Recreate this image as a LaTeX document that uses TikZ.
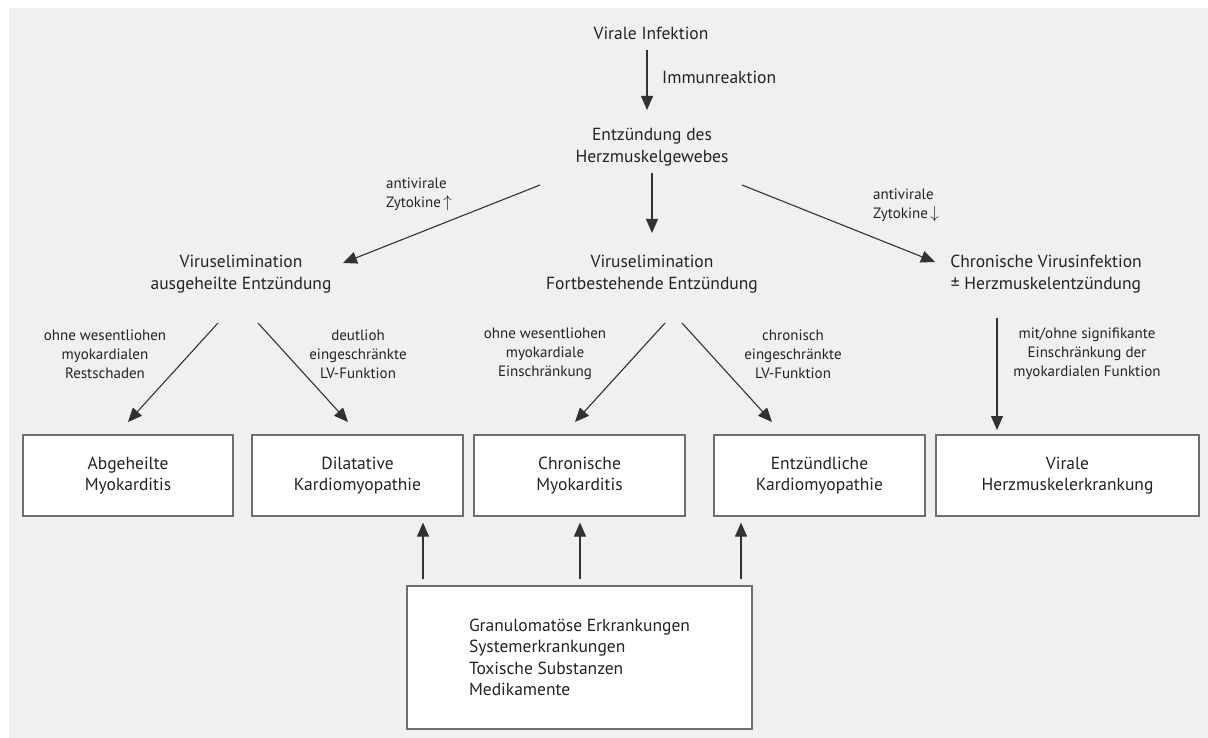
\documentclass[tikz,border=0pt]{standalone}
\usepackage{fontspec}
\setmainfont{PT Sans}
\usetikzlibrary{arrows.meta}
\definecolor{bg}{RGB}{240,240,240}
\definecolor{txt}{RGB}{35,35,35}
\definecolor{ln}{RGB}{50,50,50}
\definecolor{bd}{RGB}{110,110,110}
\begin{document}
\begin{tikzpicture}[x=1pt,y=-1pt,
  txtnode/.style={text=txt,font=\fontsize{17.5}{21.5}\selectfont,align=center,inner sep=0pt},
  lbl/.style={text=txt,font=\fontsize{15}{19}\selectfont,align=center,inner sep=0pt},
  box/.style={draw=bd,line width=1.2pt,fill=white,minimum height=81pt,text=txt,
    font=\fontsize{17.5}{21.5}\selectfont,align=center,inner sep=0pt},
  arr/.style={draw=ln,line width=1.1pt,-{Triangle[length=14pt,width=12pt]}}]
\useasboundingbox (0,0) rectangle (1208,738);
\fill[white] (0,0) rectangle (1208,738);
\fill[bg] (9,8) rectangle (1208,738);

% main text nodes
\node[txtnode] (vi) at (651,33) {Virale Infektion};
\node[txtnode,anchor=west] (imm) at (662,77) {Immunreaktion};
\node[txtnode] (ent) at (652,147) {Entzündung des\\Herzmuskelgewebes};
\node[txtnode] (elimL) at (241,274) {Viruselimination\\ausgeheilte Entzündung};
\node[txtnode] (elimM) at (652,274) {Viruselimination\\Fortbestehende Entzündung};
\node[txtnode] (chron) at (1046,274) {Chronische Virusinfektion\\± Herzmuskelentzündung};

% labels
\node[lbl,anchor=west,align=left] (avL) at (386,194) {antivirale\\Zytokine\,{\fontsize{17}{19}\selectfont$\uparrow$}};
\node[lbl,anchor=west,align=left] (avR) at (873,205) {antivirale\\Zytokine\,{\fontsize{17}{19}\selectfont$\downarrow$}};
\node[lbl] (l1) at (105,354) {ohne wesentliohen\\myokardialen\\Restschaden};
\node[lbl] (l2) at (358,354) {deutlioh\\eingeschränkte\\LV-Funktion};
\node[lbl] (l3) at (545,354) {ohne wesentliohen\\myokardiale\\Einschränkung};
\node[lbl] (l4) at (793,354) {chronisch\\eingeschränkte\\LV-Funktion};
\node[lbl] (l5) at (1087,354) {mit/ohne signifikante\\Einschränkung der\\myokardialen Funktion};

% boxes
\node[box,minimum width=210pt] (b1) at (128,475.5) {Abgeheilte\\Myokarditis};
\node[box,minimum width=211pt] (b2) at (357.5,475.5) {Dilatative\\Kardiomyopathie};
\node[box,minimum width=211pt] (b3) at (579.5,475.5) {Chronische\\Myokarditis};
\node[box,minimum width=211pt] (b4) at (819.5,475.5) {Entzündliche\\Kardiomyopathie};
\node[box,minimum width=263pt] (b5) at (1067.5,475.5) {Virale\\Herzmuskelerkrankung};
\node[box,minimum width=345pt,minimum height=143pt,align=left] (bb) at (579.5,657.5)
  {Granulomatöse Erkrankungen\\Systemerkrankungen\\Toxische Substanzen\\Medikamente};

% connectors
\draw[arr] ([shift={(-4,17)}]vi.center) -- ([shift={(-5,-37)}]ent.center);
\draw[arr] ([shift={(0,26)}]ent.center) -- ([shift={(0,-41)}]elimM.center);
\draw[arr] ([shift={(-112,38)}]ent.center) -- ([shift={(102,-11)}]elimL.center);
\draw[arr] ([shift={(90,38)}]ent.center) -- ([shift={(-111,-12)}]chron.center);
\draw[arr] ([shift={(-23,49)}]elimL.center) -- ([shift={(0,-53.5)}]b1.center);
\draw[arr] ([shift={(17,49)}]elimL.center) -- ([shift={(-9.5,-53.5)}]b2.center);
\draw[arr] ([shift={(13,49)}]elimM.center) -- ([shift={(-4.5,-53.5)}]b3.center);
\draw[arr] ([shift={(30,49)}]elimM.center) -- ([shift={(-47.5,-53.5)}]b4.center);
\draw[arr] ([shift={(-49,44)}]chron.center) -- ([shift={(-70.5,-45.5)}]b5.center);
\draw[arr] ([shift={(-156.5,-6)}]bb.north) -- ([shift={(65.5,6)}]b2.south);
\draw[arr] ([shift={(0.5,-6)}]bb.north) -- ([shift={(0.5,6)}]b3.south);
\draw[arr] ([shift={(161.5,-6)}]bb.north) -- ([shift={(-78.5,6)}]b4.south);
\end{tikzpicture}
\end{document}
